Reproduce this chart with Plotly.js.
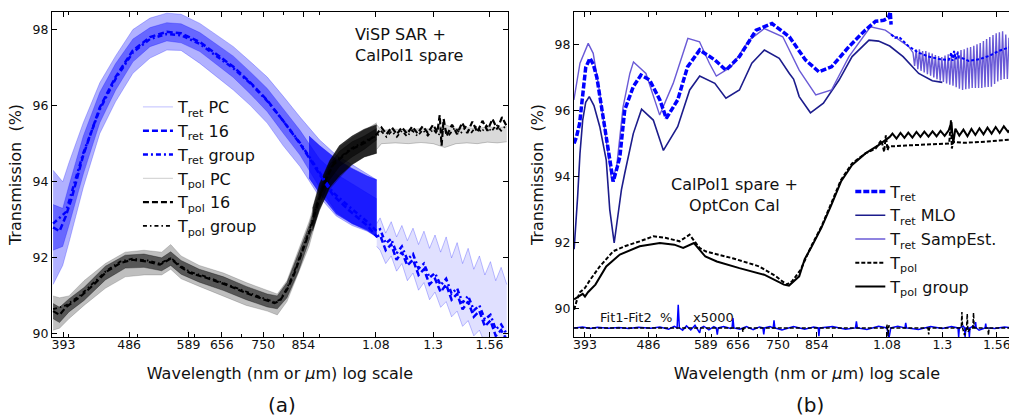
<!DOCTYPE html>
<html><head><meta charset="utf-8">
<script src="https://cdn.plot.ly/plotly-3.0.1.min.js"></script>
<style>html,body{margin:0;padding:0;overflow:hidden;background:#fff;width:1009px;height:418px}#chart{width:1045px;height:418px}</style>
</head><body><div id="chart"></div><script>
// ---------- axis ticks ----------
const TICK_VALS = [393, 486, 589, 656, 750, 854, 1080, 1300, 1560];
const TICK_TEXT = ['393', '486', '589', '656', '750', '854', '1.08', '1.3', '1.56'];
const MINOR_VALS = [400, 500, 600, 700, 800, 900];
const Y_TICKS = [90, 92, 94, 96, 98];

// ---------- panel (a) ----------
const L_retBandX  = [380, 392, 400, 419, 442, 465, 492, 520, 549, 575, 611, 645, 681, 720, 760, 800, 845, 900, 950, 1000, 1050, 1083];
const L_retBandUp = [94.3, 94.0, 94.5, 95.55, 96.6, 97.3, 98.0, 98.3, 98.43, 98.4, 98.16, 97.85, 97.55, 97.15, 96.75, 96.25, 95.7, 95.1, 94.7, 94.45, 94.2, 94.05];
const L_retBandLo = [91.3, 91.8, 92.4, 93.85, 95.27, 96.1, 96.85, 97.25, 97.46, 97.45, 97.11, 96.75, 96.41, 96.0, 95.54, 94.95, 94.4, 93.6, 93.1, 92.85, 92.7, 92.55];
const L_retCoreUp = [93.4, 93.3, 93.9, 95.2, 96.35, 97.1, 97.75, 98.05, 98.18, 98.15, 97.92, 97.62, 97.3, 96.88, 96.45, 95.92, 95.35, 94.6, 94.2, 93.95, 93.7, 93.55];
const L_retCoreLo = [92.2, 92.3, 92.85, 94.2, 95.55, 96.4, 97.15, 97.55, 97.7, 97.65, 97.42, 97.08, 96.74, 96.3, 95.84, 95.28, 94.7, 93.85, 93.2, 92.9, 92.75, 92.55];
const L_retDenseX  = [870, 900, 950, 1000, 1050, 1083];
const L_retDenseUp = [95.2, 94.95, 94.6, 94.35, 94.15, 94.05];
const L_retDenseLo = [94.1, 93.7, 93.15, 92.9, 92.72, 92.55];
const L_retNirX  = [1083, 1095, 1115, 1135, 1155, 1175, 1196, 1218, 1240, 1262, 1285, 1308, 1332, 1356, 1380, 1405, 1430, 1456, 1483, 1510, 1537, 1565, 1592, 1620, 1650];
const L_retNirUp = [92.9, 93.05, 92.65, 92.95, 92.55, 92.85, 92.45, 92.78, 92.35, 92.7, 92.25, 92.6, 92.15, 92.55, 92.0, 92.4, 91.85, 92.25, 91.7, 92.05, 91.55, 91.9, 91.4, 91.75, 91.3];
const L_retNirLo = [92.3, 92.2, 91.85, 92.05, 91.65, 91.85, 91.4, 91.6, 91.15, 91.35, 90.9, 91.1, 90.7, 90.85, 90.45, 90.6, 90.2, 90.35, 89.95, 90.1, 89.75, 89.85, 89.5, 89.6, 89.3];
const L_ret16X = [380, 388, 396, 404, 419, 442, 465, 492, 520, 549, 575, 611, 645, 681, 720, 760, 800, 845, 900, 940, 990, 1050, 1083, 1095, 1115, 1135, 1155, 1175, 1196, 1218, 1240, 1262, 1285, 1308, 1332, 1356, 1380, 1405, 1430, 1456, 1483, 1510, 1537, 1565, 1592, 1620, 1650];
const L_ret16Y = [92.8, 92.7, 93.1, 93.6, 94.7, 95.95, 96.75, 97.45, 97.8, 97.94, 97.9, 97.67, 97.35, 97.02, 96.6, 96.14, 95.6, 95.0, 94.2, 93.65, 93.25, 92.85, 92.56, 92.6, 92.2, 92.35, 91.95, 92.15, 91.8, 91.95, 91.55, 91.7, 91.3, 91.45, 91.1, 91.3, 90.9, 91.05, 90.65, 90.85, 90.45, 90.6, 90.2, 90.35, 89.95, 90.1, 89.85];
const L_retGrpX = [380, 396, 419, 442, 465, 492, 520, 549, 575, 611, 645, 681, 720, 760, 800, 845, 900, 940, 990, 1050, 1083, 1095, 1115, 1135, 1155, 1175, 1196, 1218, 1240, 1262, 1285, 1308, 1332, 1356, 1380, 1405, 1430, 1456, 1483, 1510, 1537, 1565, 1592, 1620, 1650];
const L_retGrpY = [92.9, 93.2, 94.75, 95.9, 96.7, 97.4, 97.75, 97.88, 97.85, 97.62, 97.3, 96.98, 96.58, 96.12, 95.6, 95.02, 94.25, 93.72, 93.35, 92.95, 92.7, 92.75, 92.38, 92.5, 92.12, 92.3, 91.95, 92.1, 91.72, 91.85, 91.48, 91.6, 91.28, 91.45, 91.06, 91.2, 90.82, 91.0, 90.62, 90.75, 90.38, 90.5, 90.12, 90.25, 90.0];
const L_polBandX  = [380, 388, 400, 420, 450, 480, 510, 540, 556, 575, 610, 660, 710, 760, 785, 810, 840, 870, 900, 930, 960, 1000, 1040, 1083];
const L_polBandUp = [91.0, 90.95, 91.0, 91.4, 91.85, 92.15, 92.2, 92.15, 92.35, 92.05, 91.8, 91.6, 91.35, 91.15, 91.05, 91.4, 92.2, 92.95, 93.85, 94.5, 94.9, 95.15, 95.35, 95.55];
const L_polBandLo = [90.1, 90.15, 90.4, 90.75, 91.2, 91.5, 91.55, 91.55, 91.7, 91.45, 91.25, 91.0, 90.75, 90.6, 90.5, 90.85, 91.6, 92.3, 93.3, 93.8, 94.1, 94.45, 94.65, 94.75];
const L_polCoreUp = [90.8, 90.7, 90.92, 91.22, 91.78, 92.07, 92.1, 92.0, 92.16, 91.93, 91.7, 91.5, 91.25, 91.05, 91.0, 91.35, 92.1, 92.85, 93.75, 94.45, 94.8, 95.05, 95.2, 95.4];
const L_polCoreLo = [90.4, 90.3, 90.58, 90.88, 91.42, 91.73, 91.75, 91.66, 91.8, 91.57, 91.36, 91.14, 90.9, 90.71, 90.66, 90.95, 91.62, 92.45, 93.35, 94.05, 94.4, 94.65, 94.85, 95.1];
const L_polDenseX  = [880, 900, 930, 960, 1000, 1040, 1083];
const L_polDenseUp = [93.3, 93.95, 94.55, 94.95, 95.2, 95.38, 95.5];
const L_polDenseLo = [92.7, 93.25, 93.85, 94.15, 94.45, 94.65, 94.75];
const L_polNirX  = [1083, 1100, 1150, 1200, 1250, 1300, 1350, 1400, 1450, 1500, 1550, 1600, 1650];
const L_polNirUp = [95.5, 95.35, 95.38, 95.36, 95.4, 95.38, 95.5, 95.4, 95.42, 95.4, 95.44, 95.42, 95.45];
const L_polNirLo = [94.85, 95.0, 95.02, 95.0, 95.03, 95.0, 94.9, 95.0, 95.02, 95.0, 95.04, 95.02, 95.05];
const L_pol16X = [380, 388, 396, 415, 433, 452, 472, 491, 516, 537, 556, 573, 592, 625, 666, 711, 753, 778, 792, 810, 828, 845, 873, 891, 901, 921, 941, 993, 1049, 1083, 1100, 1118, 1137, 1156, 1175, 1195, 1215, 1236, 1257, 1278, 1300, 1318, 1328, 1336, 1345, 1358, 1382, 1405, 1428, 1452, 1476, 1500, 1525, 1550, 1575, 1600, 1625, 1650];
const L_pol16Y = [90.6, 90.5, 90.7, 90.98, 91.29, 91.64, 91.86, 91.95, 91.9, 91.82, 91.98, 91.77, 91.6, 91.47, 91.29, 91.07, 90.9, 90.81, 90.88, 91.16, 91.55, 92.0, 92.73, 93.3, 93.6, 94.1, 94.45, 94.83, 95.05, 95.25, 95.42, 95.25, 95.43, 95.25, 95.43, 95.26, 95.45, 95.27, 95.46, 95.28, 95.5, 95.3, 95.75, 94.95, 95.65, 95.2, 95.5, 95.25, 95.55, 95.28, 95.58, 95.3, 95.6, 95.34, 95.65, 95.38, 95.7, 95.45];
const L_polGrpX = [380, 396, 415, 433, 452, 472, 491, 516, 537, 556, 573, 592, 625, 666, 711, 753, 778, 792, 810, 828, 845, 873, 901, 941, 993, 1049, 1083, 1100, 1118, 1137, 1156, 1175, 1195, 1215, 1236, 1257, 1278, 1300, 1322, 1345, 1370, 1395, 1420, 1445, 1470, 1495, 1520, 1545, 1570, 1595, 1620, 1650];
const L_polGrpY = [90.65, 90.75, 91.02, 91.33, 91.67, 91.9, 91.98, 91.93, 91.85, 92.0, 91.8, 91.63, 91.5, 91.31, 91.1, 90.93, 90.84, 90.9, 91.2, 91.6, 92.05, 92.78, 93.65, 94.5, 94.85, 95.1, 95.2, 95.32, 95.18, 95.33, 95.18, 95.34, 95.19, 95.35, 95.2, 95.36, 95.21, 95.38, 95.22, 95.4, 95.24, 95.42, 95.26, 95.44, 95.28, 95.46, 95.3, 95.48, 95.32, 95.5, 95.34, 95.5];

// ---------- panel (b) ----------
const R_retX = [379, 382, 386, 390, 394, 399.6, 404, 409, 418, 424.5, 432, 438, 441.7, 449, 462, 474, 488, 505, 516, 536, 554, 577, 607, 630, 659, 697, 735, 779, 822, 860, 897, 951, 1004, 1040, 1068, 1085, 1092, 1095];
const R_retY = [95.0, 95.2, 95.6, 96.5, 97.3, 97.58, 97.4, 97.0, 95.8, 94.8, 93.85, 94.3, 94.6, 96.02, 96.72, 97.07, 96.92, 96.32, 95.76, 96.32, 97.32, 97.83, 97.53, 97.22, 97.63, 98.43, 98.63, 98.23, 97.53, 97.17, 97.32, 97.93, 98.43, 98.7, 98.73, 98.8, 98.98, 98.6];
const R_retNirX = [1095, 1110, 1124, 1160, 1200, 1242, 1290, 1328, 1340, 1345, 1352, 1360, 1368, 1375, 1390, 1420, 1470, 1520, 1570, 1620, 1700];
const R_retNirY = [98.3, 98.2, 98.23, 97.95, 97.75, 97.63, 97.55, 97.53, 97.75, 97.5, 97.8, 97.55, 97.75, 97.6, 97.58, 97.5, 97.55, 97.65, 97.8, 97.9, 97.95];
const R_mloX = [379, 381.5, 383.5, 386.5, 390, 394, 398.7, 405, 413, 422, 427, 433.4, 439, 444, 449, 462, 475, 494, 511, 536, 558, 577, 607, 630, 659, 687, 716.5, 753, 779, 790, 796, 805, 836, 873, 920, 961, 1017, 1050, 1090, 1140, 1201, 1257, 1300];
const R_mloY = [91.8, 92.6, 93.4, 94.7, 95.7, 96.25, 96.42, 96.15, 95.51, 94.5, 93.0, 91.99, 92.8, 93.6, 94.1, 95.3, 96.04, 95.71, 94.79, 95.51, 96.62, 97.04, 96.82, 96.37, 96.62, 97.43, 97.83, 97.58, 97.12, 96.95, 96.75, 96.42, 95.93, 96.22, 96.92, 97.63, 98.13, 98.1, 97.95, 97.63, 97.12, 96.9, 96.85];
const R_sampX = [378.7, 386.5, 397.3, 404, 413, 422, 430, 437, 446.5, 456.7, 462.3, 482, 504.7, 528, 554.6, 576.7, 596, 610, 641, 681, 716.5, 762, 805, 851, 897, 951, 1022, 1074, 1124, 1162];
const R_sampY = [96.32, 97.43, 98.03, 97.73, 96.52, 95.11, 93.85, 94.3, 96.11, 97.12, 97.47, 97.12, 95.86, 96.82, 98.18, 98.08, 97.43, 97.04, 97.32, 98.13, 98.48, 98.23, 97.22, 96.47, 96.62, 97.63, 98.53, 98.43, 98.13, 97.93];
const R_sampOscX = [1178.4, 1184.7, 1191.1, 1197.5, 1203.9, 1210.4, 1216.9, 1223.4, 1230.0, 1236.6, 1243.2, 1249.9, 1256.6, 1263.3, 1270.1, 1276.9, 1283.8, 1290.7, 1297.6, 1304.6, 1311.6, 1318.6, 1325.7, 1332.8, 1340.0, 1347.2, 1354.4, 1361.7, 1369.0, 1376.3, 1383.7, 1391.1, 1398.6, 1406.1, 1413.7, 1421.3, 1428.9, 1436.6, 1444.3, 1452.1, 1459.9, 1467.7, 1475.6, 1483.5, 1491.5, 1499.5, 1507.5, 1515.6, 1523.7, 1531.9, 1540.1, 1548.4, 1556.7, 1565.1, 1573.5, 1581.9, 1590.4, 1598.9, 1607.5, 1616.1, 1624.8, 1633.5];
const R_sampOscY = [97.75, 97.35, 97.85, 97.25, 97.85, 97.2, 97.8, 97.15, 97.8, 97.1, 97.75, 97.05, 97.72, 97.0, 97.68, 96.95, 97.65, 96.9, 97.62, 96.86, 97.66, 96.82, 97.7, 96.78, 97.73, 96.75, 97.76, 96.7, 97.8, 96.66, 97.83, 96.62, 97.85, 96.64, 97.9, 96.66, 97.92, 96.68, 97.96, 96.68, 98.0, 96.68, 98.04, 96.68, 98.1, 96.7, 98.16, 96.71, 98.22, 96.72, 98.28, 96.8, 98.34, 96.88, 98.37, 96.92, 98.4, 96.95, 98.3, 96.95, 98.2, 97.0];
const R_polX = [379, 383, 386.5, 393, 400, 413, 432, 449, 472, 494, 516, 539.5, 557.8, 576.7, 589.5, 644, 704.5, 745, 772, 786, 809, 838, 867.6, 897, 926, 961, 1005, 1040, 1060, 1070, 1076, 1082, 1087, 1150, 1201, 1270, 1330, 1338, 1342, 1348, 1400, 1511, 1592, 1700];
const R_polY = [89.97, 90.3, 90.5, 90.63, 90.88, 91.28, 91.74, 91.89, 92.04, 92.19, 92.14, 92.04, 92.24, 91.84, 91.73, 91.53, 91.28, 90.98, 90.73, 90.83, 91.18, 91.89, 92.49, 93.2, 93.9, 94.4, 94.7, 94.85, 95.1, 94.75, 95.25, 94.8, 94.91, 94.94, 94.96, 94.98, 95.0, 95.7, 94.85, 95.05, 95.02, 95.06, 95.1, 95.15];
const R_polGrpX = [379, 385, 390, 393, 397, 407, 422, 441.7, 472, 505, 530, 546, 566, 588, 611, 659, 716, 765, 778, 805, 820, 838, 867, 897, 926, 961, 1005, 1050, 1090, 1100, 1115, 1130, 1145, 1160, 1176, 1192, 1208, 1224, 1241, 1258, 1275, 1292, 1310, 1328, 1340, 1348, 1358, 1376, 1395, 1414, 1433, 1452, 1472, 1492, 1512, 1533, 1554, 1575, 1597, 1620, 1645, 1700];
const R_polGrpY = [90.28, 90.37, 90.45, 90.37, 90.5, 90.73, 91.28, 91.64, 91.89, 91.99, 91.94, 91.84, 91.99, 91.58, 91.43, 91.23, 91.03, 90.73, 90.7, 90.98, 91.5, 91.85, 92.45, 93.15, 93.85, 94.35, 94.7, 94.95, 95.2, 95.3, 95.15, 95.32, 95.17, 95.33, 95.18, 95.35, 95.2, 95.36, 95.21, 95.37, 95.22, 95.38, 95.23, 95.4, 95.65, 95.0, 95.45, 95.24, 95.42, 95.22, 95.44, 95.26, 95.46, 95.28, 95.48, 95.3, 95.5, 95.32, 95.52, 95.35, 95.5, 95.4];
const R_resBX = [379, 390, 400, 410, 425, 440, 455, 470, 490, 505, 520, 530, 535, 537, 539, 545, 552, 560, 568, 575, 577, 579, 585, 595, 605, 610, 612, 614, 625, 640, 643, 645, 647, 660, 675, 690, 705, 713, 715, 717, 730, 738, 740, 742, 760, 790, 820, 845, 858, 860, 862, 900, 940, 972, 975, 978, 1010, 1050, 1080, 1087, 1094, 1120, 1147, 1150, 1153, 1200, 1250, 1300, 1340, 1370, 1373, 1376, 1395, 1400, 1403, 1406, 1420, 1423, 1426, 1440, 1450, 1453, 1456, 1470, 1500, 1503, 1506, 1550, 1600, 1650];
const R_resBY = [89.42, 89.45, 89.40, 89.44, 89.41, 89.43, 89.40, 89.44, 89.41, 89.45, 89.38, 89.47, 89.42, 90.12, 89.42, 89.35, 89.48, 89.36, 89.5, 89.33, 89.27, 89.42, 89.47, 89.36, 89.46, 89.42, 89.22, 89.42, 89.46, 89.40, 89.42, 89.72, 89.42, 89.38, 89.46, 89.37, 89.45, 89.42, 89.22, 89.42, 89.46, 89.42, 89.65, 89.42, 89.36, 89.46, 89.38, 89.45, 89.42, 89.17, 89.42, 89.46, 89.38, 89.42, 89.62, 89.42, 89.37, 89.47, 89.42, 89.1, 89.42, 89.47, 89.42, 89.57, 89.42, 89.37, 89.46, 89.4, 89.46, 89.42, 89.15, 89.42, 89.47, 89.42, 89.15, 89.42, 89.42, 89.15, 89.42, 89.47, 89.42, 89.6, 89.42, 89.35, 89.42, 89.55, 89.42, 89.4, 89.45, 89.42];
const R_resKX = [379, 420, 480, 540, 600, 660, 665, 667, 669, 720, 800, 900, 1000, 1078, 1081, 1084, 1087, 1090, 1150, 1239, 1242, 1245, 1300, 1360, 1385, 1388, 1391, 1400, 1410, 1413, 1416, 1430, 1440, 1443, 1446, 1460, 1514, 1517, 1520, 1580, 1650];
const R_resKY = [89.42, 89.42, 89.42, 89.42, 89.42, 89.42, 89.42, 89.3, 89.42, 89.42, 89.42, 89.42, 89.42, 89.42, 89.52, 89.17, 89.5, 89.42, 89.42, 89.42, 89.22, 89.42, 89.42, 89.42, 89.42, 89.9, 89.42, 89.2, 89.42, 89.85, 89.3, 89.42, 89.42, 89.88, 89.42, 89.42, 89.42, 89.2, 89.42, 89.42, 89.42];

// ---------- build traces ----------
const traces = [];
function line(x, y, o) {
  const t = Object.assign({x: x, y: y, type: 'scatter', mode: 'lines', hoverinfo: 'skip', showlegend: false}, o);
  traces.push(t); return t;
}
function band(x, up, lo, fill, edge, ax) {
  line(x, up, Object.assign({line: {color: edge, width: 0.8}}, ax));
  line(x, lo, Object.assign({line: {color: edge, width: 0.8}, fill: 'tonexty', fillcolor: fill}, ax));
}
const A = {xaxis: 'x', yaxis: 'y'};
const B = {xaxis: 'x2', yaxis: 'y2', legend: 'legend2'};

// panel (a)
band(L_retBandX, L_retBandUp, L_retBandLo, 'rgba(50,50,255,0.38)', 'rgba(0,0,255,0.3)', A);
band(L_retBandX, L_retCoreUp, L_retCoreLo, 'rgba(0,0,255,0.42)', 'rgba(0,0,255,0.3)', A);
band(L_retDenseX, L_retDenseUp, L_retDenseLo, 'rgba(0,0,255,0.75)', 'rgba(0,0,255,0.5)', A);
line(L_retNirX, L_retNirUp, Object.assign({name: 'T<sub>ret</sub> PC', showlegend: true, legendrank: 1, line: {color: 'rgba(0,0,255,0.25)', width: 1}}, A));
line(L_retNirX, L_retNirLo, Object.assign({line: {color: 'rgba(0,0,255,0.25)', width: 1}, fill: 'tonexty', fillcolor: 'rgba(0,0,255,0.12)'}, A));
band(L_polBandX, L_polBandUp, L_polBandLo, 'rgba(0,0,0,0.25)', 'rgba(0,0,0,0.2)', A);
band(L_polBandX, L_polCoreUp, L_polCoreLo, 'rgba(0,0,0,0.55)', 'rgba(0,0,0,0.4)', A);
band(L_polDenseX, L_polDenseUp, L_polDenseLo, 'rgba(0,0,0,0.8)', 'rgba(0,0,0,0.5)', A);
line(L_polNirX, L_polNirUp, Object.assign({name: 'T<sub>pol</sub> PC', showlegend: true, legendrank: 4, line: {color: 'rgba(0,0,0,0.2)', width: 1}}, A));
line(L_polNirX, L_polNirLo, Object.assign({line: {color: 'rgba(0,0,0,0.2)', width: 1}, fill: 'tonexty', fillcolor: 'rgba(0,0,0,0.15)'}, A));
line(L_ret16X, L_ret16Y, Object.assign({name: 'T<sub>ret</sub> 16', showlegend: true, legendrank: 2, line: {color: '#0000ff', width: 2.5, dash: '6px,3px'}}, A));
line(L_retGrpX, L_retGrpY, Object.assign({name: 'T<sub>ret</sub> group', showlegend: true, legendrank: 3, line: {color: '#0000ff', width: 2.5, dash: '5px,3px,2px,3px'}}, A));
line(L_pol16X, L_pol16Y, Object.assign({name: 'T<sub>pol</sub> 16', showlegend: true, legendrank: 5, line: {color: '#000', width: 2.2, dash: '6px,3px'}}, A));
line(L_polGrpX, L_polGrpY, Object.assign({name: 'T<sub>pol</sub> group', showlegend: true, legendrank: 6, line: {color: '#000', width: 1.8, dash: '4px,3px,1.5px,3px'}}, A));

// panel (b)
line(R_resBX, R_resBY, Object.assign({line: {color: '#0000ff', width: 1.5}}, B));
line(R_resKX, R_resKY, Object.assign({line: {color: '#000', width: 1.5, dash: '4px,2px'}}, B));
line(R_mloX, R_mloY, Object.assign({name: 'T<sub>ret</sub> MLO', showlegend: true, legendrank: 2, line: {color: '#1c1c8c', width: 1.6}}, B));
line(R_sampX.concat(R_sampOscX), R_sampY.concat(R_sampOscY), Object.assign({name: 'T<sub>ret</sub> SampEst.', showlegend: true, legendrank: 3, line: {color: '#6a5ad6', width: 1.4}}, B));
line(R_retX, R_retY, Object.assign({name: 'T<sub>ret</sub>', showlegend: true, legendrank: 1, line: {color: '#0000ff', width: 3.5, dash: '6px,2px'}}, B));
line(R_retNirX, R_retNirY, Object.assign({line: {color: '#0000ff', width: 2, dash: '3px,2px'}}, B));
line(R_polGrpX, R_polGrpY, Object.assign({name: 'T<sub>pol</sub> group', showlegend: true, legendrank: 5, line: {color: '#000', width: 2}}, B));
line(R_polX, R_polY, Object.assign({name: 'T<sub>pol</sub>', showlegend: true, legendrank: 4, line: {color: '#000', width: 2, dash: '4px,2px'}}, B));

// ---------- layout ----------
const FONT = 'DejaVu Sans, sans-serif';
function xAxis(domain, range, anchor) {
  return {domain: domain, anchor: anchor, type: 'log', range: range, tickmode: 'array', tickvals: TICK_VALS, ticktext: TICK_TEXT,
    ticks: 'inside', ticklen: 5, tickwidth: 1, tickcolor: '#000', showline: true, linecolor: '#000', linewidth: 1, mirror: 'ticks',
    showgrid: false, zeroline: false, tickfont: {size: 12.5, color: '#111'}, ticklabeloverflow: 'allow', ticklabelstandoff: -4,
    minor: {tickmode: 'array', tickvals: MINOR_VALS, ticks: 'inside', ticklen: 3, tickcolor: '#000', showgrid: false},
    title: {text: 'Wavelength (nm or <i>\u03bc</i>m) log scale', font: {size: 16, color: '#111'}, standoff: 16}, automargin: false};
}
function yAxis(range, anchor) {
  return {anchor: anchor, range: range, tickmode: 'array', tickvals: Y_TICKS, ticks: 'inside', ticklen: 5, tickwidth: 1, tickcolor: '#000',
    showline: true, linecolor: '#000', linewidth: 1, mirror: 'ticks', showgrid: false, zeroline: false,
    tickfont: {size: 12.5, color: '#111'}, title: {text: 'Transmission\u00a0 (%)', font: {size: 16, color: '#111'}, standoff: 6}, automargin: false};
}
const layout = {
  width: 1045, height: 418, margin: {l: 52, r: 5, t: 12, b: 81},
  paper_bgcolor: '#fff', plot_bgcolor: '#fff', font: {family: FONT, color: '#111'},
  xaxis: xAxis([0, 0.4615], [2.57823, 3.21913], 'y'),
  yaxis: yAxis([89.92, 98.46], 'x'),
  xaxis2: xAxis([0.5283, 1], [2.5784, 3.2559], 'y2'),
  yaxis2: yAxis([89.145, 98.98], 'x2'),
  legend: {x: 0.087, y: 0.76, xanchor: 'left', yanchor: 'top', traceorder: 'normal', bgcolor: 'rgba(0,0,0,0)', font: {size: 16, color: '#111'}, tracegroupgap: 0},
  legend2: {x: 0.808, y: 0.5, xanchor: 'left', yanchor: 'top', traceorder: 'normal', bgcolor: 'rgba(0,0,0,0)', font: {size: 16, color: '#111'}, tracegroupgap: 0},
  showlegend: true,
  annotations: [
    {xref: 'paper', yref: 'paper', x: 0.3047, y: 0.965, xanchor: 'left', yanchor: 'top', align: 'left', showarrow: false, text: 'ViSP SAR +<br>CalPol1 spare', font: {size: 16, color: '#111'}},
    {xref: 'paper', yref: 'paper', x: 0.6903, y: 0.505, xanchor: 'center', yanchor: 'top', align: 'center', showarrow: false, text: 'CalPol1 spare +<br>OptCon Cal', font: {size: 16, color: '#111'}},
    {xref: 'paper', yref: 'paper', x: 0.5526, y: 0.0585, xanchor: 'left', yanchor: 'middle', showarrow: false, text: 'Fit1-Fit2\u00a0 %', font: {size: 13, color: '#111'}},
    {xref: 'paper', yref: 'paper', x: 0.6468, y: 0.0585, xanchor: 'left', yanchor: 'middle', showarrow: false, text: 'x5000', font: {size: 13, color: '#111'}},
    {xref: 'paper', yref: 'paper', x: 0.2328, y: -0.209, xanchor: 'center', yanchor: 'middle', showarrow: false, text: '(a)', font: {size: 20, color: '#111'}},
    {xref: 'paper', yref: 'paper', x: 0.7672, y: -0.209, xanchor: 'center', yanchor: 'middle', showarrow: false, text: '(b)', font: {size: 20, color: '#111'}}
  ]
};
Plotly.newPlot('chart', traces, layout, {staticPlot: true, displayModeBar: false});
</script></body></html>
